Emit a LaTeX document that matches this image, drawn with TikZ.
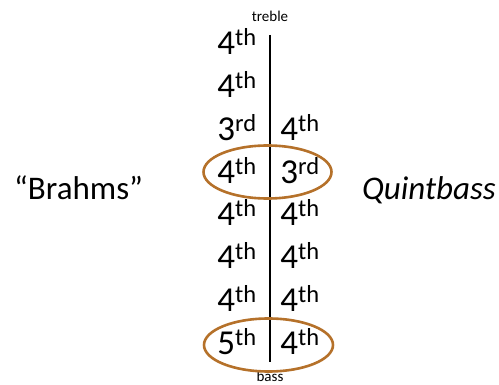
\documentclass[tikz,border=0pt]{standalone}
\usepackage{fontspec}
\setmainfont{Carlito}
\begin{document}
\begin{tikzpicture}[x=1pt,y=-1pt,
  intv/.style={anchor=base,inner sep=0pt,font=\fontsize{35}{38}\selectfont},
  small/.style={anchor=base,inner sep=0pt,font=\fontsize{15}{17}\selectfont},
  big/.style={inner sep=0pt,font=\fontsize{33}{36}\selectfont},
  ring/.style={draw=ringc,line width=2.6pt},
  staff/.style={draw=black,line width=1.4pt}]
\definecolor{ringc}{HTML}{B5712A}
\useasboundingbox (0,0) rectangle (499,385);
\node[small] (treble) at (270,22) {treble};
\node[small] (bass) at (270,382) {bass};
\coordinate (top) at (270,35);
\coordinate (bot) at (270,362);
\draw[staff] (top) -- (bot);
% left column
\node[intv] (l1) at (237,55) {4\textsuperscript{th}};
\node[intv] (l2) at (237,98) {4\textsuperscript{th}};
\node[intv] (l3) at (237,141) {3\textsuperscript{rd}};
\node[intv] (l4) at (237,184) {4\textsuperscript{th}};
\node[intv] (l5) at (237,226) {4\textsuperscript{th}};
\node[intv] (l6) at (237,269) {4\textsuperscript{th}};
\node[intv] (l7) at (237,312) {4\textsuperscript{th}};
\node[intv] (l8) at (237,355) {5\textsuperscript{th}};
% right column
\node[intv] (r3) at (300,141) {4\textsuperscript{th}};
\node[intv] (r4) at (300,184) {3\textsuperscript{rd}};
\node[intv] (r5) at (300,226) {4\textsuperscript{th}};
\node[intv] (r6) at (300,269) {4\textsuperscript{th}};
\node[intv] (r7) at (300,312) {4\textsuperscript{th}};
\node[intv] (r8) at (300,355) {4\textsuperscript{th}};
% rings
\draw[ring] (267.5,172) ellipse [x radius=64,y radius=26.5];
\draw[ring] (268.5,345) ellipse [x radius=64.5,y radius=26.5];
% side labels
\node[big,anchor=base west] (brahms) at (14,200) {“Brahms”};
\node[big,anchor=base east] (quint) at (496,200) {\itshape Quintbass};
\end{tikzpicture}
\end{document}
